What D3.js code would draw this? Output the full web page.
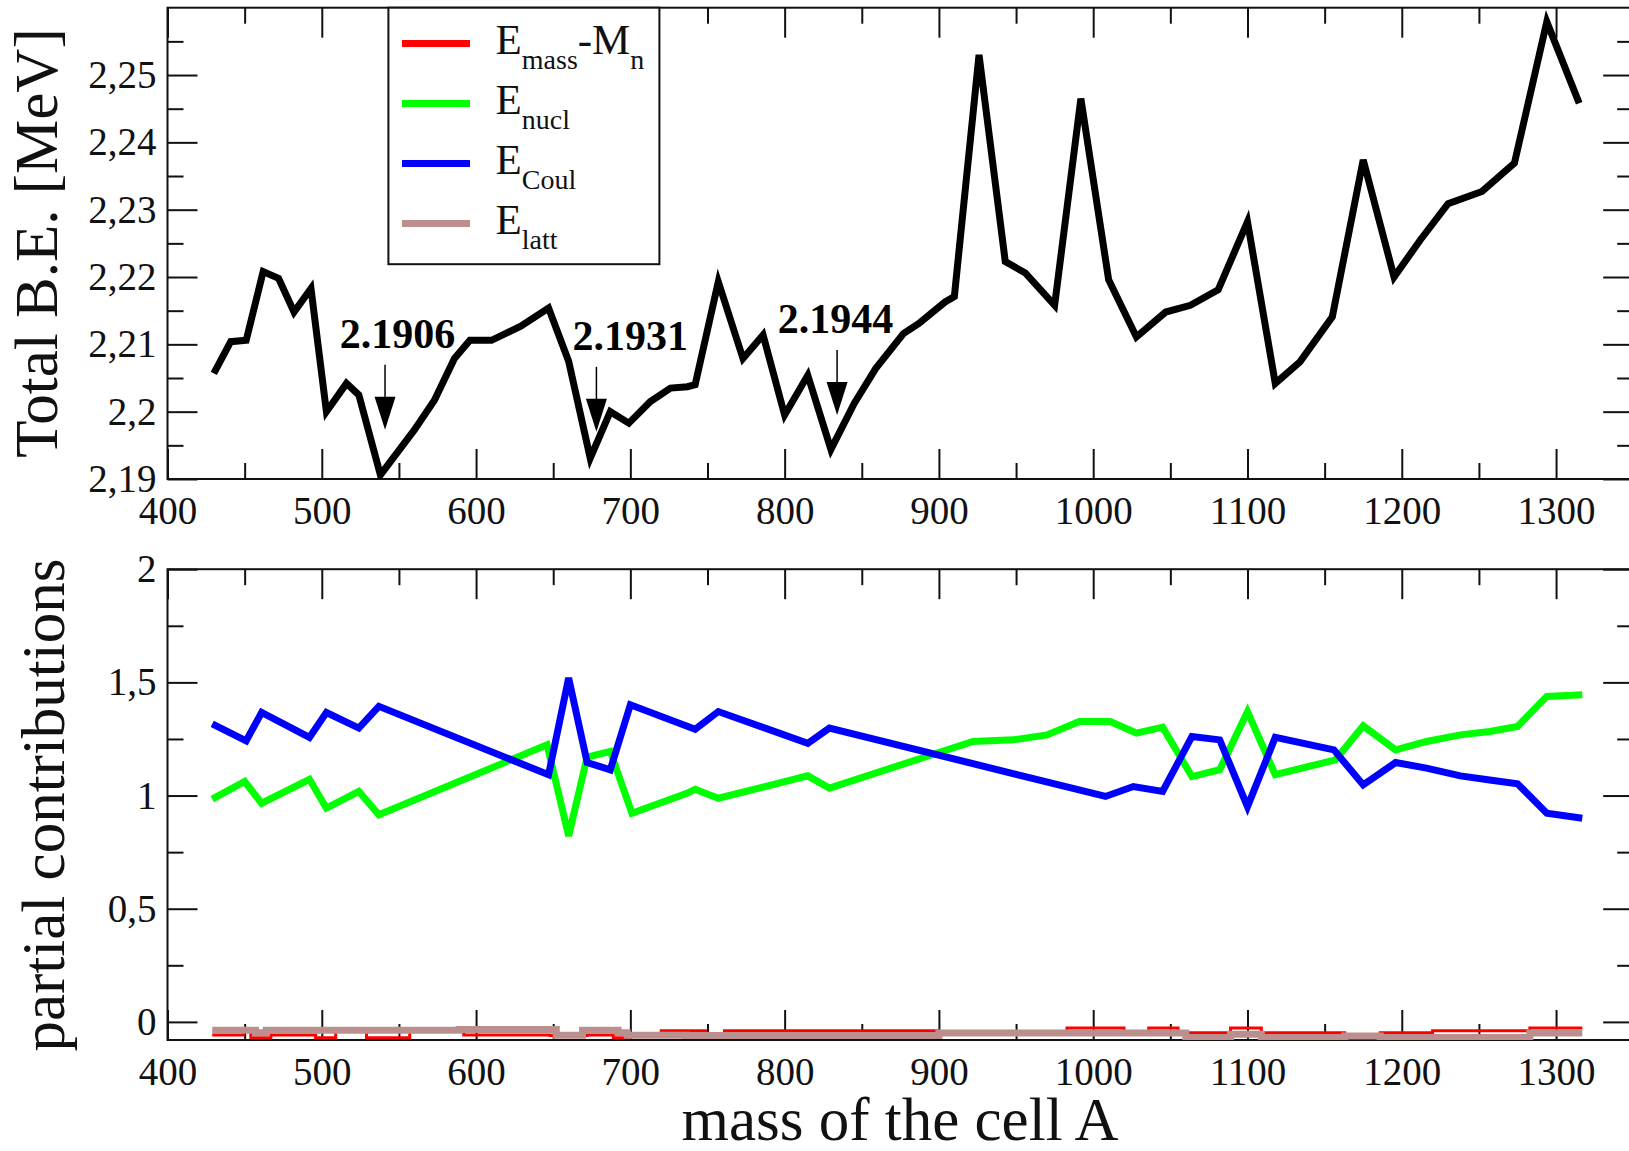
<!DOCTYPE html>
<html>
<head>
<meta charset="utf-8">
<script src="https://cdn.jsdelivr.net/npm/d3@7"></script>
<style>
body { margin: 0; background: #fff; }
svg { display: block; }
</style>
</head>
<body>
<script>
// Binding energy of the cell vs. its mass, and the partial contributions

// Top panel: total binding energy per cell mass
var cellMass = [430, 441, 451, 462, 472, 482, 493, 503, 516, 524,
                538, 560, 573, 586, 596, 610, 629, 647, 660, 674,
                687, 699, 713, 726, 737, 742, 757, 773, 786, 800,
                815, 830, 845, 859, 877, 887, 904, 910, 926, 943,
                956, 975, 992, 1010, 1028, 1047, 1063, 1081, 1100, 1118,
                1134, 1155, 1175, 1195, 1212, 1230, 1252, 1273, 1294, 1315];
var totalBE = [2.2057, 2.2104, 2.2106, 2.2208, 2.2198, 2.2148, 2.2183, 2.2000, 2.2042, 2.2025,
               2.1906, 2.1973, 2.2017, 2.2079, 2.2106, 2.2106, 2.2127, 2.2154, 2.2075, 2.1931,
               2.2000, 2.1983, 2.2015, 2.2035, 2.2037, 2.2040, 2.2193, 2.2079, 2.2114, 2.1995,
               2.2054, 2.1944, 2.2012, 2.2064, 2.2116, 2.2131, 2.2163, 2.2171, 2.2530, 2.2223,
               2.2206, 2.2158, 2.2465, 2.2196, 2.2111, 2.2148, 2.2158, 2.2181, 2.2282, 2.2042,
               2.2074, 2.2141, 2.2374, 2.2200, 2.2255, 2.2309, 2.2327, 2.2369, 2.2579, 2.2458];

// Bottom panel: partial contributions
var eMassX = [429, 449, 454, 467, 496, 509, 529, 557, 592, 648,
              672, 689, 698, 720, 749, 761, 900, 983, 1020, 1036,
              1055, 1060, 1089, 1109, 1163, 1186, 1220, 1283, 1317];
var eMassY = [-0.058, -0.040, -0.070, -0.058, -0.070, -0.040, -0.070, -0.040, -0.058, -0.060,
              -0.058, -0.070, -0.060, -0.039, -0.060, -0.039, -0.050, -0.027, -0.050, -0.027,
              -0.050, -0.048, -0.027, -0.048, -0.062, -0.048, -0.039, -0.027, -0.027];

var eNuclX = [429, 450, 461, 492, 503, 524, 537, 646, 660, 672,
              687, 701, 737, 742, 757, 815, 829, 922, 948, 970,
              991, 1011, 1028, 1045, 1064, 1082, 1100, 1118, 1157, 1175,
              1196, 1216, 1238, 1257, 1275, 1294, 1317];
var eNuclY = [0.984, 1.062, 0.966, 1.072, 0.944, 1.018, 0.915, 1.224, 0.822, 1.170,
              1.195, 0.922, 1.011, 1.028, 0.988, 1.087, 1.033, 1.239, 1.246, 1.268,
              1.327, 1.327, 1.276, 1.302, 1.084, 1.114, 1.371, 1.092, 1.158, 1.308,
              1.202, 1.239, 1.268, 1.283, 1.305, 1.438, 1.445];

var eCoulX = [429, 451, 461, 492, 503, 524, 537, 647, 660, 672,
              687, 700, 736, 742, 757, 815, 829, 1008, 1026, 1045,
              1064, 1082, 1100, 1118, 1156, 1175, 1196, 1216, 1238, 1257,
              1275, 1294, 1317];
var eCoulY = [1.317, 1.242, 1.367, 1.257, 1.367, 1.298, 1.394, 1.092, 1.519, 1.146,
              1.114, 1.401, 1.308, 1.293, 1.371, 1.231, 1.298, 0.996, 1.040, 1.018,
              1.261, 1.246, 0.951, 1.257, 1.202, 1.047, 1.146, 1.121, 1.087, 1.069,
              1.052, 0.922, 0.900];

var eLattX = [429, 457, 464, 589, 652, 669, 692, 698, 736, 900,
              1060, 1089, 1109, 1163, 1186, 1283, 1317];
var eLattY = [-0.037, -0.048, -0.037, -0.034, -0.059, -0.037, -0.048, -0.059, -0.060, -0.049,
              -0.069, -0.055, -0.069, -0.062, -0.069, -0.049, -0.049];

// Ticks
var xTicks = [400, 500, 600, 700, 800, 900, 1000, 1100, 1200, 1300];
var xMinor = [450, 550, 650, 750, 850, 950, 1050, 1150, 1250];
var beTicks = [2.19, 2.2, 2.21, 2.22, 2.23, 2.24, 2.25];
var beMinor = [2.195, 2.205, 2.215, 2.225, 2.235, 2.245, 2.255];
var partTicks = [0, 0.5, 1, 1.5, 2];
var partMinor = [0.25, 0.75, 1.25, 1.75];

// Marked minima (arrow tip in data units, label position)
var minLabels = ["2.1906", "2.1931", "2.1944"];
var arrowMass = [541, 678, 834];
var arrowBE = [2.1973, 2.1970, 2.1995];
var labelMass = [549, 700, 833];

// Legend
var legendMain = ["E", "E", "E", "E"];
var legendSub = ["mass", "nucl", "Coul", "latt"];
var legendTail = ["-M", "", "", ""];
var legendTailSub = ["n", "", "", ""];
var colors = ["#ff0000", "#00ff00", "#0000ff", "#bc8f8f"];

// Width and height
var w = 1629;
var h = 1151;
var font = "'Liberation Serif', 'Times New Roman', serif";

var left = 167.5, right = 1633.2;
var top1 = 7.7, bottom1 = 479;
var top2 = 569.2, bottom2 = 1040;

// Scale functions
var xScale = d3.scaleLinear()
    .domain([400, 1350])
    .range([left, right]);

var yBE = d3.scaleLinear()
    .domain([2.19, 2.26])
    .range([bottom1, top1]);

var yPart = d3.scaleLinear()
    .domain([-0.08, 2])
    .range([bottom2, top2]);

var commaFmt = d3.formatLocale({decimal: ",", thousands: ".", grouping: [3], currency: ["", ""]}).format("~g");

// Create SVG element
var svg = d3.select("body")
    .append("svg")
    .attr("width", w)
    .attr("height", h)
    .style("font-family", font);

// Clip paths for each panel
var defs = svg.append("defs");
defs.append("clipPath").attr("id", "clipTop")
  .append("rect")
    .attr("x", left).attr("y", top1)
    .attr("width", right - left).attr("height", bottom1 - top1);
defs.append("clipPath").attr("id", "clipBot")
  .append("rect")
    .attr("x", left).attr("y", top2)
    .attr("width", right - left).attr("height", bottom2 - top2);

function styleAxis(g) {
    g.attr("font-family", font).attr("font-size", 39);
    g.select(".domain").remove();
    g.selectAll("line").attr("stroke", "#111").attr("stroke-width", 2);
    g.selectAll("text").attr("fill", "#111");
}

// minor ticks carry no labels
function styleMinor(g) {
    styleAxis(g);
    g.selectAll("text").remove();
}

// Axes with inward ticks on all four sides
function addAxes(y, yMajor, yMinor, fmt) {
    var y0 = y.range()[0], y1 = y.range()[1];

    svg.append("g")
        .attr("transform", "translate(0," + y0 + ")")
        .call(d3.axisBottom(xScale).tickValues(xTicks).tickSize(-30).tickPadding(17.5).tickFormat(d3.format("d")))
        .call(styleAxis);
    svg.append("g")
        .attr("transform", "translate(0," + y0 + ")")
        .call(d3.axisBottom(xScale).tickValues(xMinor).tickSize(-16))
        .call(styleMinor);
    svg.append("g")
        .attr("transform", "translate(0," + y1 + ")")
        .call(d3.axisTop(xScale).tickValues(xTicks).tickSize(-30))
        .call(styleMinor);
    svg.append("g")
        .attr("transform", "translate(0," + y1 + ")")
        .call(d3.axisTop(xScale).tickValues(xMinor).tickSize(-16))
        .call(styleMinor);

    svg.append("g")
        .attr("transform", "translate(" + left + ",0)")
        .call(d3.axisLeft(y).tickValues(yMajor).tickSize(-30).tickPadding(11).tickFormat(fmt))
        .call(styleAxis);
    svg.append("g")
        .attr("transform", "translate(" + left + ",0)")
        .call(d3.axisLeft(y).tickValues(yMinor).tickSize(-16))
        .call(styleMinor);
    svg.append("g")
        .attr("transform", "translate(" + right + ",0)")
        .call(d3.axisRight(y).tickValues(yMajor).tickSize(-30))
        .call(styleMinor);
    svg.append("g")
        .attr("transform", "translate(" + right + ",0)")
        .call(d3.axisRight(y).tickValues(yMinor).tickSize(-16))
        .call(styleMinor);

    // Frame
    svg.append("rect")
        .attr("x", left)
        .attr("y", y1)
        .attr("width", right - left)
        .attr("height", y0 - y1)
        .attr("fill", "none")
        .attr("stroke", "#111")
        .attr("stroke-width", 2);
}

addAxes(yBE, beTicks, beMinor, commaFmt);
addAxes(yPart, partTicks, partMinor, commaFmt);

// Line functions
var lineBE = d3.line()
    .x(function(d) { return xScale(d[0]); })
    .y(function(d) { return yBE(d[1]); });

var linePart = d3.line()
    .x(function(d) { return xScale(d[0]); })
    .y(function(d) { return yPart(d[1]); });

var stepPart = d3.line()
    .curve(d3.curveStepAfter)
    .x(function(d) { return xScale(d[0]); })
    .y(function(d) { return yPart(d[1]); });

// Top panel line
svg.append("path")
    .attr("clip-path", "url(#clipTop)")
    .attr("d", lineBE(d3.zip(cellMass, totalBE)))
    .attr("fill", "none")
    .attr("stroke", "#000")
    .attr("stroke-width", 7);

// Bottom panel lines (drawn in legend order)
var parts = [
    {pts: d3.zip(eMassX, eMassY), gen: stepPart, width: 3},
    {pts: d3.zip(eNuclX, eNuclY), gen: linePart, width: 7},
    {pts: d3.zip(eCoulX, eCoulY), gen: linePart, width: 7},
    {pts: d3.zip(eLattX, eLattY), gen: stepPart, width: 7}
];

svg.append("g")
    .attr("clip-path", "url(#clipBot)")
  .selectAll("path")
    .data(parts)
    .enter().append("path")
    .attr("d", function(d) { return d.gen(d.pts); })
    .attr("fill", "none")
    .attr("stroke", function(d, i) { return colors[i]; })
    .attr("stroke-width", function(d) { return d.width; });

// Arrows and minimum labels
var anno = svg.append("g");
minLabels.forEach(function(t, i) {
    var ax = xScale(arrowMass[i]);
    var ay = yBE(arrowBE[i]);
    anno.append("line")
        .attr("x1", ax).attr("x2", ax)
        .attr("y1", ay - 65).attr("y2", ay - 30)
        .attr("stroke", "#000")
        .attr("stroke-width", 1.5);
    anno.append("path")
        .attr("d", "M" + (ax - 10.5) + "," + (ay - 33) + "L" + (ax + 10.5) + "," + (ay - 33) + "L" + ax + "," + ay + "Z")
        .attr("fill", "#000");
    anno.append("text")
        .attr("x", xScale(labelMass[i]))
        .attr("y", ay - 82)
        .attr("text-anchor", "middle")
        .attr("font-size", 42)
        .attr("font-weight", "bold")
        .text(t);
});

// Legend
var legend = svg.append("g");
legend.append("rect")
    .attr("x", 388.4)
    .attr("y", top1)
    .attr("width", 271)
    .attr("height", 256.5)
    .attr("fill", "#fff")
    .attr("stroke", "#111")
    .attr("stroke-width", 2);

legendMain.forEach(function(m, i) {
    var yy = 53.5 + i * 60;
    legend.append("line")
        .attr("x1", 402).attr("x2", 470)
        .attr("y1", yy - 10).attr("y2", yy - 10)
        .attr("stroke", colors[i])
        .attr("stroke-width", 7);
    var t = legend.append("text")
        .attr("x", 495.5)
        .attr("y", yy)
        .attr("font-size", 43)
        .attr("fill", "#111");
    t.append("tspan").text(m);
    t.append("tspan").attr("font-size", 28).attr("dy", 15).text(legendSub[i]);
    if (legendTail[i]) {
        t.append("tspan").attr("dy", -15).text(legendTail[i]);
        t.append("tspan").attr("font-size", 28).attr("dy", 15).text(legendTailSub[i]);
    }
});

// Axis titles
svg.append("text")
    .attr("transform", "translate(57,243) rotate(-90)")
    .attr("text-anchor", "middle")
    .attr("font-size", 61)
    .attr("fill", "#111")
    .text("Total B.E. [MeV]");

svg.append("text")
    .attr("transform", "translate(64,805) rotate(-90)")
    .attr("text-anchor", "middle")
    .attr("font-size", 61)
    .attr("fill", "#111")
    .text("partial contributions");

svg.append("text")
    .attr("x", 900)
    .attr("y", 1140)
    .attr("text-anchor", "middle")
    .attr("font-size", 61)
    .attr("fill", "#111")
    .text("mass of the cell A");
</script>
</body>
</html>
